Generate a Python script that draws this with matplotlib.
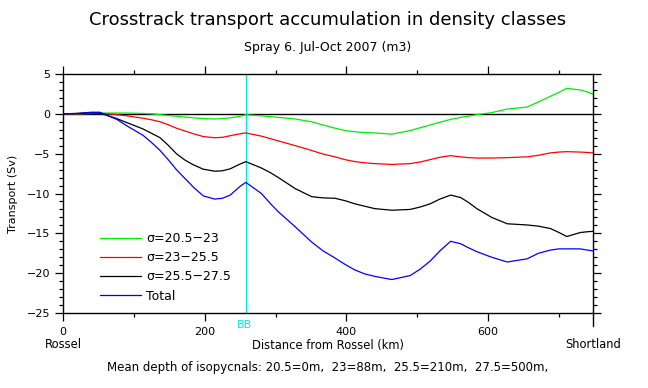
import matplotlib
matplotlib.use("Agg")
import matplotlib.pyplot as plt
from matplotlib.ticker import MultipleLocator

# ---- data ----
dist_km = [0, 20, 40, 52, 76, 90, 113, 125, 137, 148, 160, 172, 184, 198, 214, 225,
           236, 250, 258, 280, 292, 304, 328, 351, 367, 384, 398, 412, 426, 440, 464,
           490, 504, 518, 532, 547, 561, 572, 584, 605, 627, 655, 671, 688, 700, 711,
           730, 740, 748]
sig_20_23 = [0, 0, 0.05, 0.1, 0.1, 0.1, 0.05, 0.0, -0.1, -0.2, -0.3, -0.4, -0.5, -0.6,
             -0.65, -0.6, -0.5, -0.3, -0.12, -0.25, -0.35, -0.45, -0.65, -1.0, -1.4,
             -1.8, -2.1, -2.25, -2.35, -2.4, -2.55, -2.1, -1.75, -1.4, -1.05, -0.7,
             -0.45, -0.3, -0.1, 0.15, 0.6, 0.85, 1.5, 2.2, 2.7, 3.2, 3.0, 2.75, 2.45]
sig_23_255 = [0, 0, 0.05, 0.05, -0.1, -0.25, -0.55, -0.75, -1.0, -1.35, -1.8, -2.15,
              -2.5, -2.85, -3.0, -2.95, -2.75, -2.5, -2.4, -2.8, -3.1, -3.4, -4.0, -4.6,
              -5.05, -5.4, -5.75, -6.0, -6.15, -6.25, -6.35, -6.25, -6.05, -5.75, -5.45,
              -5.25, -5.4, -5.5, -5.55, -5.55, -5.5, -5.4, -5.2, -4.9, -4.8, -4.75,
              -4.8, -4.85, -4.9]
sig_255_275 = [0, 0.05, 0.15, 0.1, -0.6, -1.1, -1.9, -2.45, -3.0, -3.9, -5.0, -5.8,
               -6.4, -6.95, -7.2, -7.15, -6.9, -6.3, -6.0, -6.8, -7.35, -8.0, -9.4,
               -10.4, -10.55, -10.6, -10.9, -11.3, -11.6, -11.9, -12.1, -12.0, -11.7,
               -11.3, -10.7, -10.2, -10.5, -11.1, -11.9, -13.0, -13.8, -13.95, -14.1,
               -14.4, -14.9, -15.4, -14.9, -14.8, -14.75]
total = [0, 0.05, 0.2, 0.2, -0.7, -1.5, -2.7, -3.6, -4.6, -5.7, -7.0, -8.1, -9.2,
         -10.3, -10.7, -10.6, -10.2, -9.1, -8.6, -10.0, -11.2, -12.3, -14.2, -16.1,
         -17.2, -18.1, -18.9, -19.6, -20.1, -20.4, -20.8, -20.3, -19.5, -18.5, -17.2,
         -16.0, -16.3, -16.8, -17.3, -18.0, -18.6, -18.2, -17.5, -17.1, -16.95, -16.95,
         -16.95, -17.1, -17.2]

labels = ["σ=20.5−23", "σ=23−25.5", "σ=25.5−27.5", "Total"]
colors = ["#00ee00", "#ff0000", "#000000", "#0000ff"]
bb_km = 258
x_ticks = [0, 200, 400, 600]
y_ticks = [-25, -20, -15, -10, -5, 0, 5]

W, H = 648, 388
fig = plt.figure(figsize=(W / 100, H / 100), dpi=100)
L, R, T, B = 63, 593, 74, 313
ax = fig.add_axes([L / W, 1 - B / H, (R - L) / W, (B - T) / H])

ax.axhline(0, color="black", lw=1.0, zorder=1)
ax.axvline(bb_km, color="#00e8e8", lw=1.0, zorder=1)
for ys, lab, c in zip([sig_20_23, sig_23_255, sig_255_275, total], labels, colors):
    ax.plot(dist_km, ys, color=c, lw=0.9, label=lab, zorder=2)

ax.set_xlim(0, 748)
ax.set_ylim(-25, 5)
ax.set_xticks(x_ticks)
ax.set_yticks(y_ticks)
ax.xaxis.set_minor_locator(MultipleLocator(100))
ax.yaxis.set_minor_locator(MultipleLocator(1))
ax.tick_params(which="both", direction="out", top=True, right=True,
               labelsize=8, width=0.9)
ax.tick_params(which="major", length=6)
ax.tick_params(which="minor", length=3)
ax.tick_params(axis="y", pad=3)
ax.tick_params(axis="x", pad=4)
for s in ax.spines.values():
    s.set_linewidth(1.0)
ax.plot([1, 1], [0, -0.055], transform=ax.transAxes, color="black", lw=1.0,
        clip_on=False)

leg = ax.legend(loc="upper left", bbox_to_anchor=((100 - L) / (R - L), (B - 232) / (B - T)),
                frameon=False, fontsize=9, handlelength=3.3, handletextpad=0.4,
                labelspacing=0.5, borderpad=0, borderaxespad=0)

ax.set_ylabel("Transport (Sv)", fontsize=8)
ax.yaxis.set_label_coords((18 - L) / (R - L), 0.5)

def ftext(x, y, s, **kw):
    fig.text(x / W, 1 - y / H, s, ha="center", va="center", **kw)

ftext(328, 20, "Crosstrack transport accumulation in density classes", fontsize=13)
ftext(328, 47, "Spray 6. Jul-Oct 2007 (m3)", fontsize=9)
ftext(63.5, 344, "Rossel", fontsize=8.3)
ftext(593, 344, "Shortland", fontsize=8.3)
ftext(328, 346, "Distance from Rossel (km)", fontsize=8.3)
ftext(245, 325, "BB", fontsize=8, color="#00e8e8")
ftext(328, 367, "Mean depth of isopycnals: 20.5=0m,  23=88m,  25.5=210m,  27.5=500m,",
      fontsize=8.5)

fig.savefig("out.png", dpi=100)
